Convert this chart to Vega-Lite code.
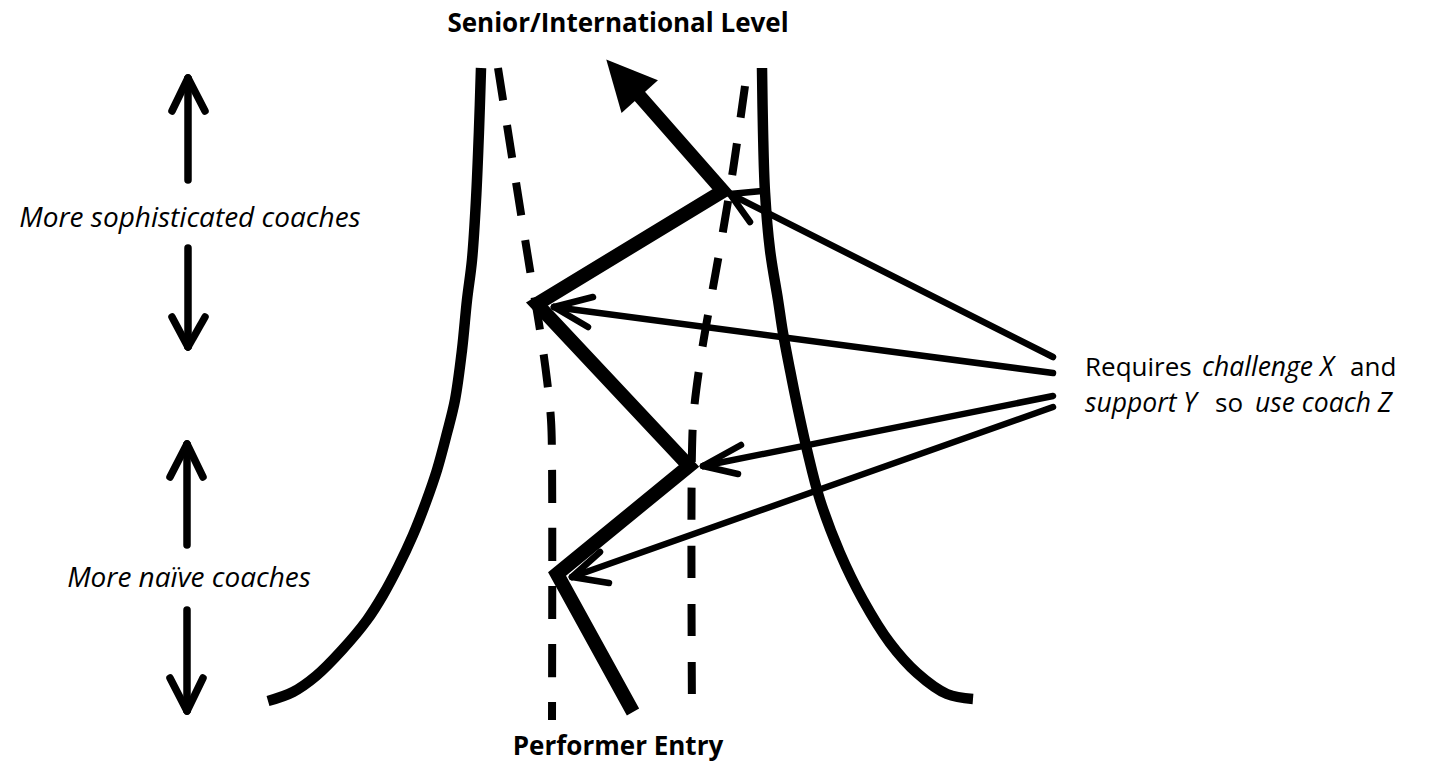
{
  "$schema": "https://vega.github.io/schema/vega-lite/v6.json",
  "width": 1430,
  "height": 765,
  "padding": 0,
  "autosize": {"type": "fit", "contains": "padding"},
  "background": "white",
  "config": {"view": {"stroke": null}},
  "datasets": {
    "leftCurve": [
      {"i": 0, "x": 481, "y": 68}, {"i": 1, "x": 479, "y": 130}, {"i": 2, "x": 476, "y": 200},
      {"i": 3, "x": 472, "y": 260}, {"i": 4, "x": 467, "y": 300}, {"i": 5, "x": 462, "y": 350},
      {"i": 6, "x": 455, "y": 400}, {"i": 7, "x": 447, "y": 433}, {"i": 8, "x": 437, "y": 470},
      {"i": 9, "x": 426, "y": 502}, {"i": 10, "x": 413, "y": 535}, {"i": 11, "x": 398, "y": 567},
      {"i": 12, "x": 383, "y": 595}, {"i": 13, "x": 367, "y": 620}, {"i": 14, "x": 342, "y": 650},
      {"i": 15, "x": 316, "y": 676}, {"i": 16, "x": 293, "y": 692}, {"i": 17, "x": 268, "y": 701}
    ],
    "rightCurve": [
      {"i": 0, "x": 762, "y": 68}, {"i": 1, "x": 763, "y": 130}, {"i": 2, "x": 765, "y": 192},
      {"i": 3, "x": 770, "y": 250}, {"i": 4, "x": 778, "y": 300}, {"i": 5, "x": 783, "y": 333},
      {"i": 6, "x": 790, "y": 370}, {"i": 7, "x": 796, "y": 400}, {"i": 8, "x": 807, "y": 450},
      {"i": 9, "x": 820, "y": 500}, {"i": 10, "x": 840, "y": 553}, {"i": 11, "x": 863, "y": 600},
      {"i": 12, "x": 890, "y": 643}, {"i": 13, "x": 917, "y": 673}, {"i": 14, "x": 947, "y": 694},
      {"i": 15, "x": 973, "y": 699}
    ],
    "leftDashed": [
      {"i": 0, "x": 498, "y": 68}, {"i": 1, "x": 530, "y": 270}, {"i": 2, "x": 540, "y": 330},
      {"i": 3, "x": 547, "y": 380}, {"i": 4, "x": 551, "y": 420}, {"i": 5, "x": 552, "y": 460},
      {"i": 6, "x": 552, "y": 720}
    ],
    "rightDashed": [
      {"i": 0, "x": 745, "y": 86}, {"i": 1, "x": 733, "y": 170}, {"i": 2, "x": 722, "y": 237},
      {"i": 3, "x": 712, "y": 293}, {"i": 4, "x": 702, "y": 350}, {"i": 5, "x": 694, "y": 410},
      {"i": 6, "x": 692, "y": 450}, {"i": 7, "x": 692, "y": 720}
    ],
    "zigzag": [
      {"i": 0, "x": 633, "y": 712}, {"i": 1, "x": 557, "y": 574}, {"i": 2, "x": 689, "y": 466},
      {"i": 3, "x": 537, "y": 304}, {"i": 4, "x": 723, "y": 191}, {"i": 5, "x": 636, "y": 92}
    ],
    "head": [{"x": 623, "y": 78}],
    "thinArrows": [
      {"x": 1053, "y": 357, "x2": 730, "y2": 194},
      {"x": 730, "y": 194, "x2": 762, "y2": 191},
      {"x": 730, "y": 194, "x2": 750, "y2": 222},
      {"x": 1053, "y": 373, "x2": 554, "y2": 307},
      {"x": 554, "y": 307, "x2": 593, "y2": 297},
      {"x": 554, "y": 307, "x2": 588, "y2": 327},
      {"x": 1053, "y": 396, "x2": 703, "y2": 466},
      {"x": 703, "y": 466, "x2": 741, "y2": 445},
      {"x": 703, "y": 466, "x2": 738, "y2": 474},
      {"x": 1053, "y": 407, "x2": 572, "y2": 577},
      {"x": 572, "y": 577, "x2": 600, "y2": 552},
      {"x": 572, "y": 577, "x2": 609, "y2": 583}
    ],
    "vArrows": [
      {"x": 188, "y": 180, "x2": 188, "y2": 79},
      {"x": 188, "y": 78, "x2": 172, "y2": 111},
      {"x": 188, "y": 78, "x2": 205, "y2": 111},
      {"x": 188, "y": 248, "x2": 188, "y2": 346},
      {"x": 188, "y": 347, "x2": 172, "y2": 317},
      {"x": 188, "y": 347, "x2": 205, "y2": 317},
      {"x": 187, "y": 545, "x2": 187, "y2": 445},
      {"x": 187, "y": 444, "x2": 170, "y2": 477},
      {"x": 187, "y": 444, "x2": 203, "y2": 477},
      {"x": 187, "y": 610, "x2": 187, "y2": 710},
      {"x": 187, "y": 711, "x2": 170, "y2": 678},
      {"x": 187, "y": 711, "x2": 203, "y2": 678}
    ],
    "boldLabels": [
      {"x": 618, "y": 32, "t": "Senior/International Level"},
      {"x": 618, "y": 755, "t": "Performer Entry"}
    ],
    "italicCentered": [
      {"x": 190, "y": 227, "t": "More sophisticated coaches"},
      {"x": 189, "y": 587, "t": "More naïve coaches"}
    ],
    "rightNormal": [
      {"x": 1085, "y": 376, "t": "Requires"},
      {"x": 1350, "y": 376, "t": "and"},
      {"x": 1215, "y": 412, "t": "so"}
    ],
    "rightItalic": [
      {"x": 1202, "y": 376, "t": "challenge X"},
      {"x": 1085, "y": 412, "t": "support Y"},
      {"x": 1255, "y": 412, "t": "use coach Z"}
    ]
  },
  "encoding": {
    "x": {"field": "x", "type": "quantitative", "scale": {"domain": [0, 1430], "nice": false, "zero": false}, "axis": null},
    "y": {"field": "y", "type": "quantitative", "scale": {"domain": [0, 765], "nice": false, "zero": false, "reverse": true}, "axis": null}
  },
  "layer": [
    {
      "data": {"name": "leftCurve"},
      "mark": {"type": "line", "color": "black", "strokeWidth": 10.5, "interpolate": "catmull-rom", "strokeCap": "butt"},
      "encoding": {"order": {"field": "i", "type": "quantitative"}}
    },
    {
      "data": {"name": "rightCurve"},
      "mark": {"type": "line", "color": "black", "strokeWidth": 10.5, "interpolate": "catmull-rom", "strokeCap": "butt"},
      "encoding": {"order": {"field": "i", "type": "quantitative"}}
    },
    {
      "data": {"name": "leftDashed"},
      "mark": {"type": "line", "color": "black", "strokeWidth": 8, "interpolate": "catmull-rom", "strokeDash": [33, 25], "strokeCap": "butt"},
      "encoding": {"order": {"field": "i", "type": "quantitative"}}
    },
    {
      "data": {"name": "rightDashed"},
      "mark": {"type": "line", "color": "black", "strokeWidth": 8, "interpolate": "catmull-rom", "strokeDash": [32, 26], "strokeCap": "butt"},
      "encoding": {"order": {"field": "i", "type": "quantitative"}}
    },
    {
      "data": {"name": "thinArrows"},
      "mark": {"type": "rule", "color": "black", "strokeWidth": 6.5, "strokeCap": "round"},
      "encoding": {"x2": {"field": "x2"}, "y2": {"field": "y2"}}
    },
    {
      "data": {"name": "zigzag"},
      "mark": {"type": "line", "color": "black", "strokeWidth": 14, "interpolate": "linear", "strokeCap": "butt", "strokeJoin": "miter"},
      "encoding": {"order": {"field": "i", "type": "quantitative"}}
    },
    {
      "data": {"name": "head"},
      "mark": {"type": "point", "shape": "M0,-1L0.98,1L-0.98,1Z", "size": 2500, "angle": 318, "filled": true, "color": "black", "opacity": 1, "strokeWidth": 0}
    },
    {
      "data": {"name": "vArrows"},
      "mark": {"type": "rule", "color": "black", "strokeWidth": 7.5, "strokeCap": "round"},
      "encoding": {"x2": {"field": "x2"}, "y2": {"field": "y2"}}
    },
    {
      "data": {"name": "boldLabels"},
      "mark": {"type": "text", "font": "Open Sans", "fontSize": 26, "fontWeight": "bold", "align": "center", "baseline": "alphabetic", "color": "black"},
      "encoding": {"text": {"field": "t"}}
    },
    {
      "data": {"name": "italicCentered"},
      "mark": {"type": "text", "font": "Open Sans", "fontSize": 28, "fontStyle": "italic", "align": "center", "baseline": "alphabetic", "color": "black"},
      "encoding": {"text": {"field": "t"}}
    },
    {
      "data": {"name": "rightNormal"},
      "mark": {"type": "text", "font": "Open Sans", "fontSize": 26, "align": "left", "baseline": "alphabetic", "color": "black"},
      "encoding": {"text": {"field": "t"}}
    },
    {
      "data": {"name": "rightItalic"},
      "mark": {"type": "text", "font": "Open Sans", "fontSize": 26.5, "fontStyle": "italic", "align": "left", "baseline": "alphabetic", "color": "black"},
      "encoding": {"text": {"field": "t"}}
    }
  ]
}
